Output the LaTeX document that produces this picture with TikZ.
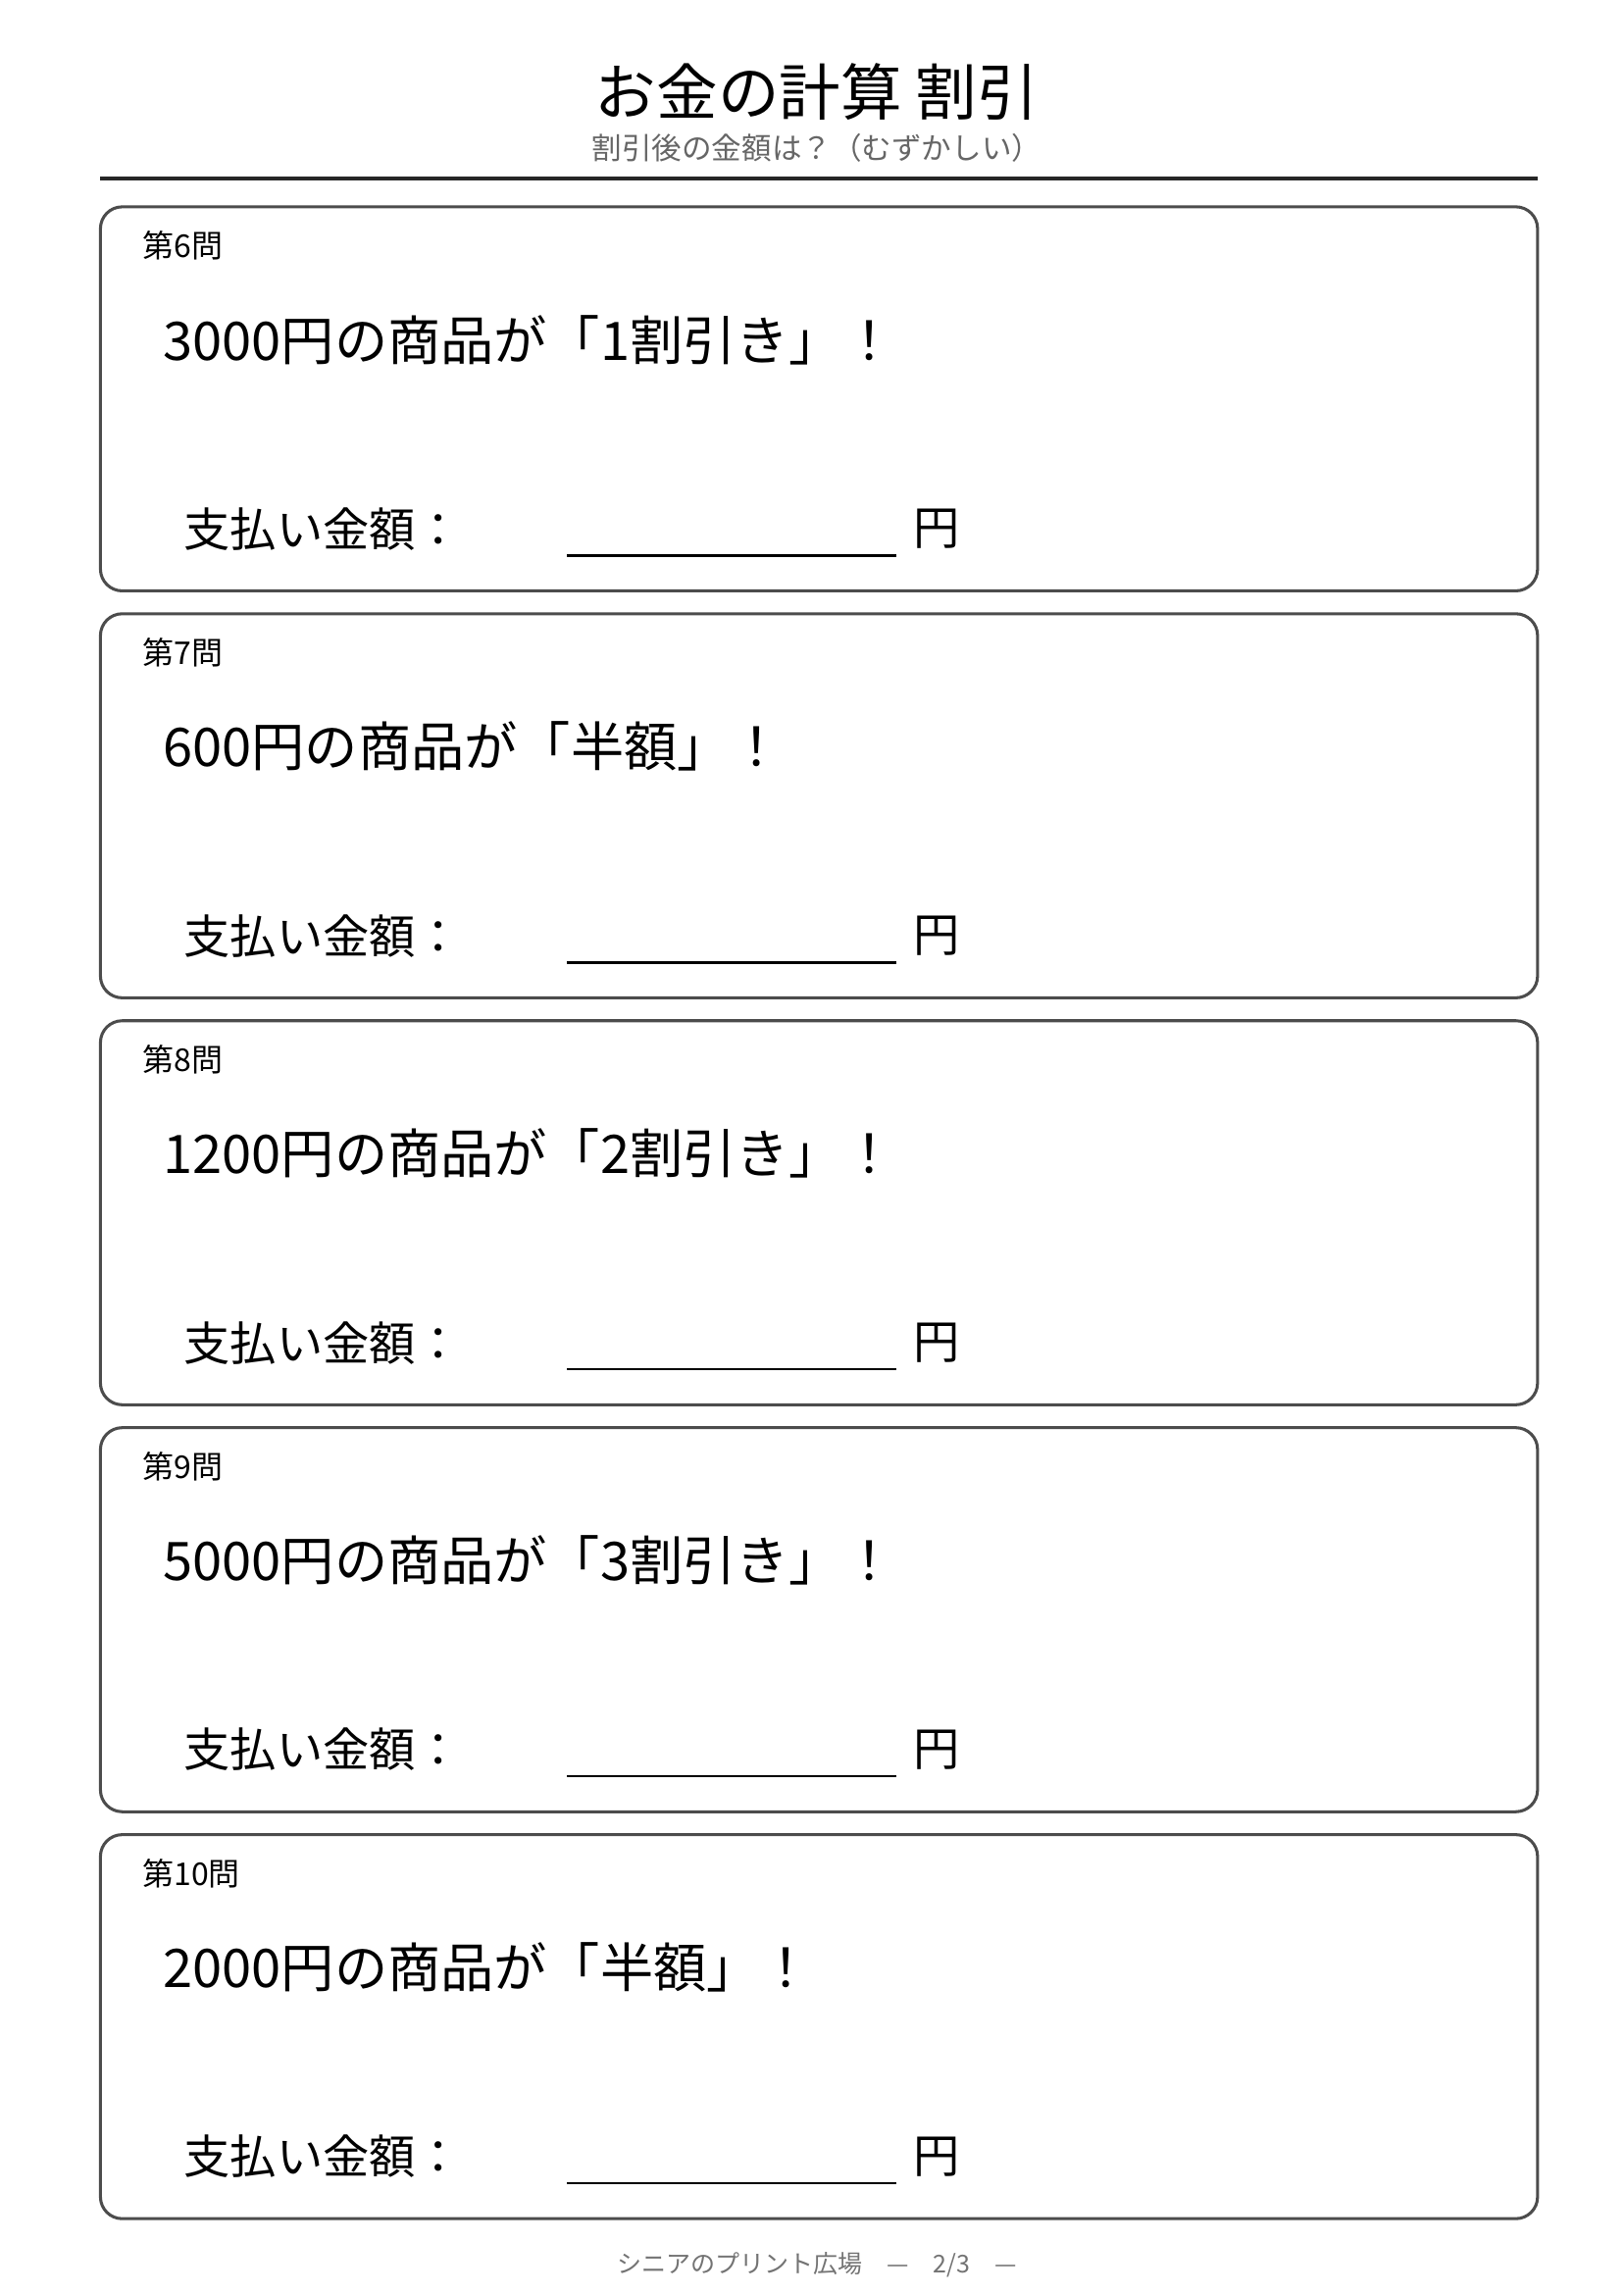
\documentclass[tikz,border=0pt]{standalone}
\usepackage{fontspec}
\setmainfont{Noto Sans CJK JP}
\begin{document}
\begin{tikzpicture}[x=0.5416pt,y=-0.5416pt,
  box/.style={draw=black!70,line width=1.1pt,rounded corners=8pt},
  num/.style={anchor=west,font=\fontsize{11.5}{13}\selectfont},
  q/.style={anchor=west,font=\fontsize{19.5}{24}\selectfont},
  ans/.style={anchor=west,font=\fontsize{17}{20}\selectfont}]
\useasboundingbox (0,0) rectangle (1099,1553);
\node (title) at (553,62) {\fontsize{22.5}{26}\selectfont お金の計算 割引};
\node[text=black!60] (sub) at (553,100) {\fontsize{11}{13}\selectfont 割引後の金額は？（むずかしい）};
\draw[line width=1.6pt,black!85] (68,121) -- (1041,121);
\foreach \ii/\qn/\qt in {0/6/3000円の商品が「1割引き」！,1/7/600円の商品が「半額」！,2/8/1200円の商品が「2割引き」！,3/9/5000円の商品が「3割引き」！,4/10/2000円の商品が「半額」！}{
  \begin{scope}[shift={(0,275.5*\ii)}]
  \draw[box] (68,140) rectangle (1041,400);
  \node[num] (n\ii) at (90,166) {第\qn{}問};
  \node[q] (q\ii) at (104,230) {\qt};
  \node[ans] (a\ii) at (118,358) {支払い金額：};
  \coordinate (l\ii) at (384,376);
  \coordinate (r\ii) at (607,376);
  \draw[line width=0.9pt] (l\ii) -- (r\ii);
  \node[ans] (y\ii) at (612,358) {円};
  \end{scope}
}
\node[text=black!55] (foot) at (553,1533) {\fontsize{9}{11}\selectfont シニアのプリント広場　—　2/3　—};
\end{tikzpicture}
\end{document}
